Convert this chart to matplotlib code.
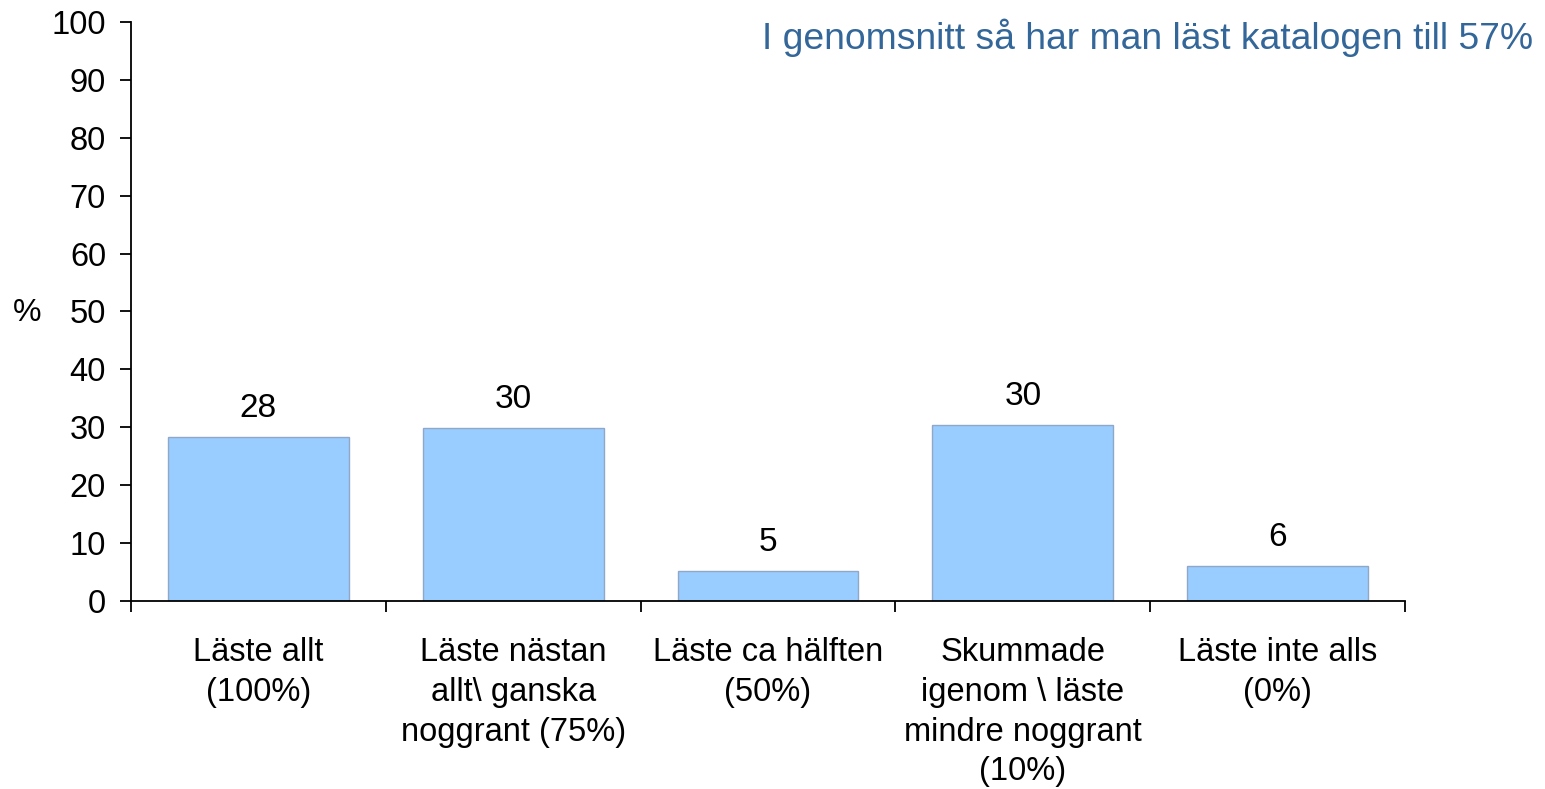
import matplotlib
matplotlib.use("Agg")
import matplotlib.pyplot as plt
import numpy as np

plt.rcParams["font.family"] = ["Liberation Sans", "DejaVu Sans"]

categories = [
    "Läste allt\n(100%)",
    "Läste nästan\nallt\\ ganska\nnoggrant (75%)",
    "Läste ca hälften\n(50%)",
    "Skummade\nigenom \\ läste\nmindre noggrant\n(10%)",
    "Läste inte alls\n(0%)",
]
values = [28.3, 29.9, 5.2, 30.4, 6.0]
value_labels = ["28", "30", "5", "30", "6"]
yticks = [0, 10, 20, 30, 40, 50, 60, 70, 80, 90, 100]
note = "I genomsnitt så har man läst katalogen till 57%"

fig = plt.figure(figsize=(15.45, 7.89), dpi=100)
ax = fig.add_axes([0.0848, 0.2383, 0.8246, 0.7338])

x = np.arange(len(categories))
ax.bar(x, values, width=0.71, color="#99CCFF", edgecolor="#8FA8C8", linewidth=1)
for xi, v, lab in zip(x, values, value_labels):
    ax.text(xi, v + 2.3, lab, ha="center", va="bottom", fontsize=24)

ax.set_xlim(-0.5, len(categories) - 0.5)
ax.set_ylim(0, 100)
ax.set_yticks(yticks)
ax.tick_params(axis="y", labelsize=23.5, length=8, width=1.3, pad=10)
ax.set_xticks(np.arange(len(categories) + 1) - 0.5)
ax.set_xticklabels([])
ax.tick_params(axis="x", length=8, width=1.3)
for xi, lab in zip(x, categories):
    ax.text(xi, -6.3, lab, ha="center", va="top", fontsize=23.5, linespacing=1.36)

for s in ["top", "right"]:
    ax.spines[s].set_visible(False)
ax.spines["left"].set_linewidth(1.3)
ax.spines["bottom"].set_linewidth(1.3)

fig.text(27 / 1545, 1 - 313 / 789, "%", ha="center", va="center", fontsize=23)
fig.text(1533 / 1545, 1 - 38 / 789, note, ha="right", va="center", fontsize=26.8, color="#336699")

fig.savefig("out.png", dpi=100)
